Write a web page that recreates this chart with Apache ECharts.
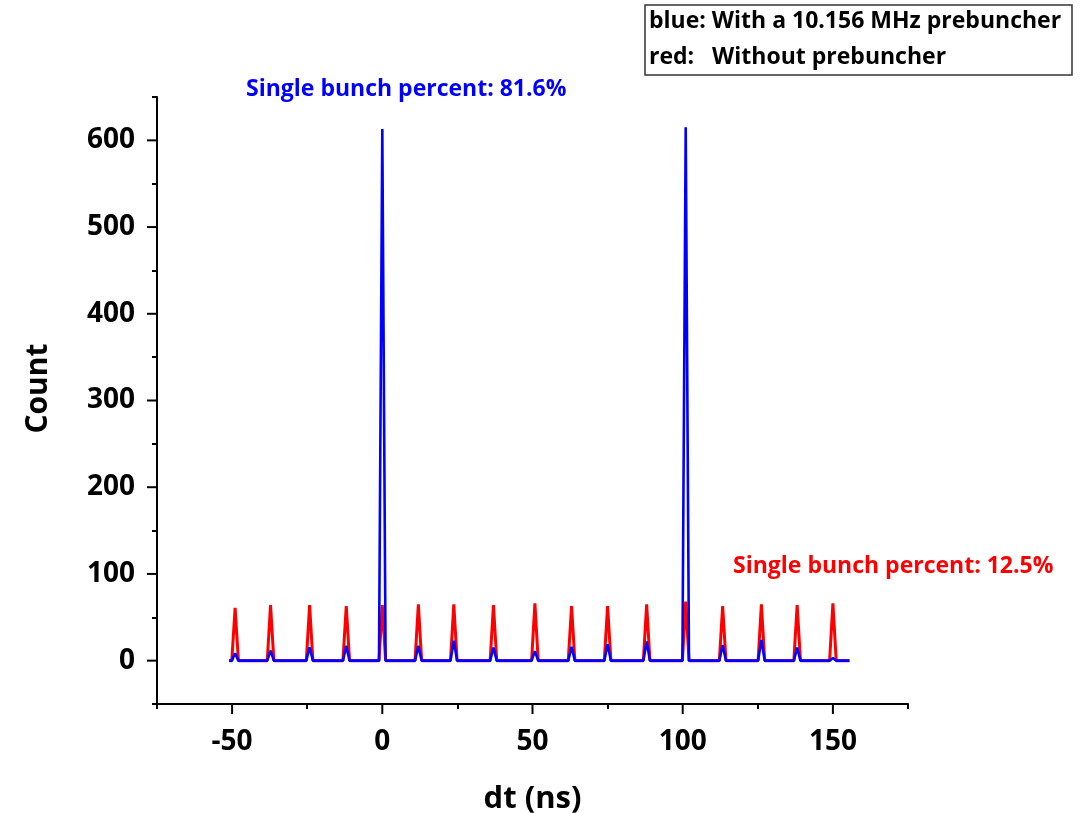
<!DOCTYPE html>
<html>
<head>
<meta charset="utf-8">
<script src="https://cdn.jsdelivr.net/npm/echarts@6/dist/echarts.min.js"></script>
<style>
html,body{margin:0;padding:0;background:#fff;}
#chart{width:1084px;height:813px;}
</style>
</head>
<body>
<div id="chart"></div>
<script>
// ---- data ----
const peakDt    = [-49, -37.2, -24.2, -12, 0, 12, 23.8, 37, 50.8, 63, 75, 88, 101, 113.3, 126.2, 138.1, 150];
const redPeak   = [61, 64, 64, 63, 64, 65, 65, 64, 66, 63, 63, 65, 68, 63, 65, 64, 66];
const bluePeak  = [8.5, 11.5, 15.5, 17, 613, 17, 23, 15, 11, 16, 19, 22, 615, 18, 24, 15, 3];
const redHalfWidth  = [1.1, 1.1, 1.1, 1.1, 1.1, 1.1, 1.1, 1.1, 1.1, 1.1, 1.1, 1.1, 1.1, 1.1, 1.1, 1.1, 1.1];
const blueHalfWidth = [1.1, 1.1, 1.1, 1.1, 1.1, 1.1, 1.1, 1.1, 1.1, 1.1, 1.1, 1.1, 1.1, 1.1, 1.1, 1.1, 1.1];
const dtStart = -51;
const dtEnd = 155.5;
const xTicks = [-50, 0, 50, 100, 150];
const yTicks = [0, 100, 200, 300, 400, 500, 600];
const blueNote = 'Single bunch percent: 81.6%';
const redNote = 'Single bunch percent: 12.5%';
const legendLines = ['blue: With a 10.156 MHz prebuncher', 'red:   Without prebuncher'];

function buildLine(peaks, halfW) {
  const pts = [[dtStart, 0]];
  peakDt.forEach((c, i) => {
    pts.push([c - halfW[i], 0]);
    pts.push([c, peaks[i]]);
    pts.push([c + halfW[i], 0]);
  });
  pts.push([dtEnd, 0]);
  return pts;
}

const FONT = 'Open Sans';
const labelStyle = {fontFamily: FONT, fontWeight: 'bold', fontSize: 28, color: '#000'};
const lineSt = {color: '#000', width: 2};
const G = {left: 157, right: 176, top: 97, bottom: 109};

const chart = echarts.init(document.getElementById('chart'), null, {renderer: 'canvas'});
chart.setOption({
  backgroundColor: '#fff',
  animation: false,
  grid: Object.assign({containLabel: false, outerBoundsMode: 'none'}, G),
  xAxis: {
    // axis ticks at -75,-25,25,... are the short ones; long ticks drawn below at labelled values
    type: 'value', min: -75, max: 175, interval: 50,
    name: 'dt (ns)', nameLocation: 'middle', nameGap: 80,
    nameTextStyle: {fontFamily: FONT, fontWeight: 'bold', fontSize: 31, color: '#000'},
    axisLine: {show: true, onZero: false, lineStyle: lineSt},
    axisTick: {show: true, length: 5, lineStyle: lineSt},
    splitLine: {show: false},
    axisLabel: Object.assign({margin: 24, customValues: xTicks}, labelStyle)
  },
  yAxis: {
    type: 'value', min: -50, max: 650, interval: 100,
    name: 'Count', nameLocation: 'middle', nameGap: 104,
    nameTextStyle: {fontFamily: FONT, fontWeight: 'bold', fontSize: 30, color: '#000', padding: [0, 0, 0, 24]},
    axisLine: {show: true, onZero: false, lineStyle: lineSt},
    axisTick: {show: true, length: 5, lineStyle: lineSt},
    splitLine: {show: false},
    axisLabel: Object.assign({margin: 22, customValues: yTicks}, labelStyle)
  },
  series: [
    {type: 'line', name: 'red', data: buildLine(redPeak, redHalfWidth), showSymbol: false,
     lineStyle: {color: '#ff0000', width: 3}, itemStyle: {color: '#ff0000'}, z: 2},
    {type: 'line', name: 'blue', data: buildLine(bluePeak, blueHalfWidth), showSymbol: false,
     lineStyle: {color: '#0000ff', width: 2.6}, itemStyle: {color: '#0000ff'}, z: 3}
  ]
});

// long (labelled) ticks, placed through the axes' own scales
const axisBottomPx = chart.convertToPixel({yAxisIndex: 0}, -50);
const axisLeftPx = chart.convertToPixel({xAxisIndex: 0}, -75);
const tickEls = [];
xTicks.forEach(v => {
  const px = chart.convertToPixel({xAxisIndex: 0}, v);
  tickEls.push({type: 'line', silent: true, z: 10,
    shape: {x1: px, y1: axisBottomPx, x2: px, y2: axisBottomPx + 10},
    style: {stroke: '#000', lineWidth: 2}});
});
yTicks.forEach(v => {
  const py = chart.convertToPixel({yAxisIndex: 0}, v);
  tickEls.push({type: 'line', silent: true, z: 10,
    shape: {x1: axisLeftPx - 10, y1: py, x2: axisLeftPx, y2: py},
    style: {stroke: '#000', lineWidth: 2}});
});

chart.setOption({
  graphic: tickEls.concat([
    {type: 'text', left: 246, top: 78,
     style: {text: blueNote, fill: '#0000ff', font: 'bold 23px "Open Sans"'}},
    {type: 'text', left: 733, top: 555,
     style: {text: redNote, fill: '#ff0000', font: 'bold 23px "Open Sans"'}},
    {type: 'rect', shape: {x: 645, y: 5, width: 427, height: 70},
     style: {fill: '#fff', stroke: '#333', lineWidth: 1.5}},
    {type: 'text', left: 649, top: 10,
     style: {text: legendLines[0], fill: '#000', font: 'bold 23px "Open Sans"'}},
    {type: 'text', left: 649, top: 46,
     style: {text: legendLines[1], fill: '#000', font: 'bold 23px "Open Sans"'}}
  ])
});
</script>
</body>
</html>
